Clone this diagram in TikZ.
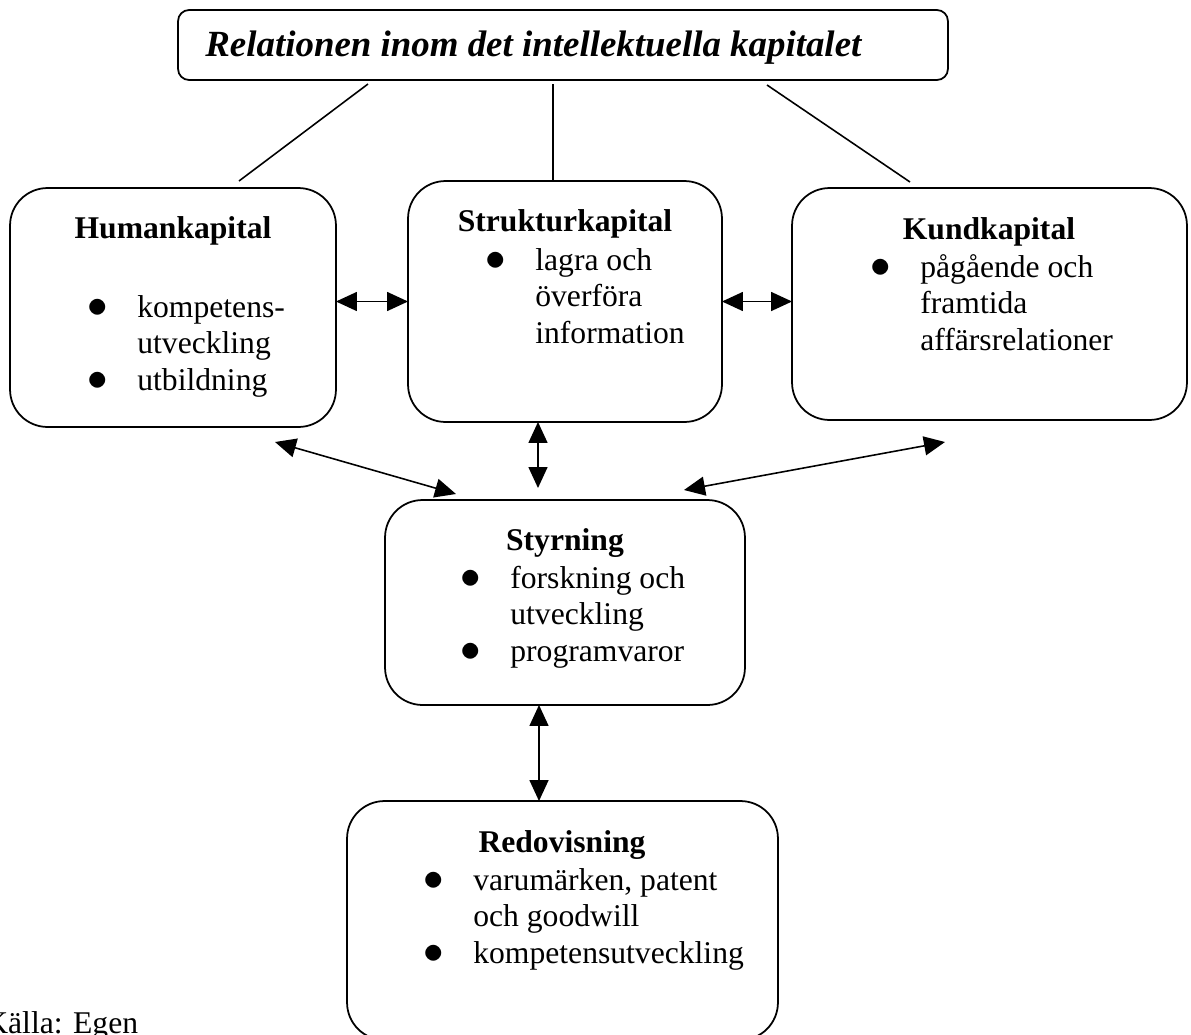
\documentclass[tikz,border=0pt]{standalone}
\usepackage{fontspec}
\setmainfont{Liberation Serif}
\usetikzlibrary{arrows.meta}

\newcommand{\punkt}{\llap{\scalebox{1.35}{$\bullet$}\hspace{0.59cm}}}

\begin{document}
\begin{tikzpicture}[x=0.02cm, y=-0.02cm,
    >={Triangle[length=0.42cm, width=0.38cm]},
    ruta/.style={draw, line width=1pt, rounded corners=0.75cm, inner sep=0pt, outer sep=0pt},
    rubrik/.style={font=\fontsize{18}{21}\selectfont\bfseries, anchor=base, inner sep=0pt},
    lista/.style={font=\fontsize{18}{21}\selectfont, anchor=base west, inner sep=0pt},
    linje/.style={line width=0.9pt}]
    \useasboundingbox (0,0) rectangle (1191,1035);

    % Rubrik
    \node (titel) [ruta, rounded corners=0.22cm, minimum width=15.4cm, minimum height=1.4cm] at (563,45) {};
    \node (titeltext) [anchor=base west, inner sep=0pt, font=\fontsize{21}{25}\selectfont\bfseries\itshape] at (205,56)
        {Relationen inom det intellektuella kapitalet};

    % Rutorna
    \node (human) [ruta, minimum width=6.52cm, minimum height=4.78cm] at (173,307.5) {};
    \node (struktur) [ruta, minimum width=6.28cm, minimum height=4.82cm] at (565,301.5) {};
    \node (kund) [ruta, minimum width=7.9cm, minimum height=4.64cm] at (989.5,304) {};
    \node (styrning) [ruta, minimum width=7.2cm, minimum height=4.1cm] at (565,602.5) {};
    \node (redovisning) [ruta, minimum width=8.62cm, minimum height=4.78cm] at (562.5,920.5) {};

    % Texter i rutorna
    \node (humanrubrik) [rubrik] at (173,238) {Humankapital};
    \node (humanlista) [lista] at (137,317) {\begin{tabular}[t]{@{}l@{}}
        \punkt kompetens-\\ utveckling\\ \punkt utbildning\end{tabular}};
    \node (strukturrubrik) [rubrik] at (565,231) {Strukturkapital};
    \node (strukturlista) [lista] at (535,270) {\begin{tabular}[t]{@{}l@{}}
        \punkt lagra och\\ överföra\\ information\end{tabular}};
    \node (kundrubrik) [rubrik] at (989,239) {Kundkapital};
    \node (kundlista) [lista] at (920,277) {\begin{tabular}[t]{@{}l@{}}
        \punkt pågående och\\ framtida\\ affärsrelationer\end{tabular}};
    \node (styrningrubrik) [rubrik] at (565,550) {Styrning};
    \node (styrninglista) [lista] at (510,588) {\begin{tabular}[t]{@{}l@{}}
        \punkt forskning och\\ utveckling\\ \punkt programvaror\end{tabular}};
    \node (redovisningrubrik) [rubrik] at (562,852) {Redovisning};
    \node (redovisninglista) [lista] at (473,890) {\begin{tabular}[t]{@{}l@{}}
        \punkt varumärken, patent\\ och goodwill\\ \punkt kompetensutveckling\end{tabular}};

    % Fria ändar
    \coordinate (t1) at (368,84);
    \coordinate (t2) at (553,84);
    \coordinate (t3) at (767,85);
    \coordinate (h1) at (239,181);
    \coordinate (k1) at (910,182);
    \coordinate (h2) at (275,442);
    \coordinate (s1) at (538,488);
    \coordinate (s2) at (456,494);
    \coordinate (s3) at (684,490);
    \coordinate (k2) at (945,442);

    % Linjer fran rubriken
    \draw[linje] (t1) -- (h1);
    \draw[linje] (t2) -- (t2 |- struktur.north);
    \draw[linje] (t3) -- (k1);

    % Pilar
    \draw[linje, <->] (human.east |- struktur.west) -- (struktur.west);
    \draw[linje, <->] (struktur.east) -- (kund.west |- struktur.east);
    \draw[linje, <->] ([xshift=-0.54cm]struktur.south) -- (s1);
    \draw[linje, <->] (h2) -- (s2);
    \draw[linje, <->] (k2) -- (s3);
    \draw[linje, <->] ([xshift=-0.52cm]styrning.south) -- ([xshift=-0.47cm]redovisning.north);

    % Kalla
    \node (kalla) [anchor=base west, inner sep=0pt, font=\fontsize{18}{21}\selectfont] at (-15,1033) {Källa: Egen};
\end{tikzpicture}
\end{document}
